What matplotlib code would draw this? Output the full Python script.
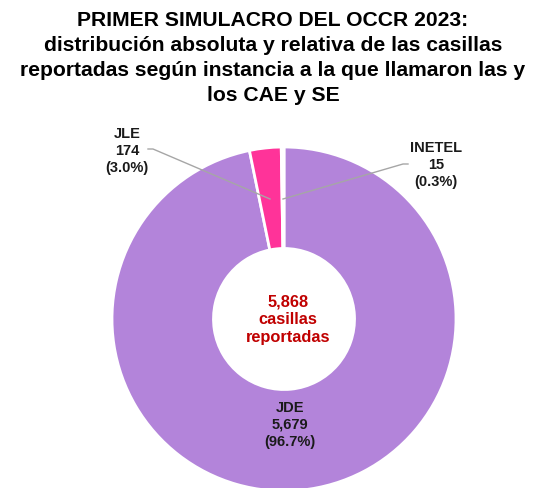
import matplotlib
matplotlib.use("Agg")
import matplotlib.pyplot as plt

plt.rcParams["font.family"] = ["Liberation Sans", "DejaVu Sans"]

TITLE = ("PRIMER SIMULACRO DEL OCCR 2023:\n"
         "distribución absoluta y relativa de las casillas\n"
         "reportadas según instancia a la que llamaron las y\n"
         "los CAE y SE")

CATEGORIES = ["JDE", "JLE", "INETEL"]
VALUES = [5679, 174, 15]
PERCENTS = ["96.7%", "3.0%", "0.3%"]
COLORS = ["#B384DA", "#FF3399", "#C8C8C8"]
TOTAL = 5868

W, H = 546, 489


def py(y):
    # pixel row (top-down) to data y (bottom-up)
    return H - y


def main():
    fig = plt.figure(figsize=(W / 100, H / 100), dpi=100)
    ax = fig.add_axes([0, 0, 1, 1])

    cx, cy, r = 284, py(320), 172

    ax.pie(
        VALUES,
        colors=COLORS,
        startangle=90,
        counterclock=False,
        radius=r,
        center=(cx, cy),
        wedgeprops=dict(width=r * 0.59, edgecolor="white", linewidth=2),
        frame=True,
    )
    ax.set_xlim(0, W)
    ax.set_ylim(0, H)
    ax.set_aspect("equal")
    ax.axis("off")

    labels = [f"{c}\n{v:,}\n({p})" for c, v, p in zip(CATEGORIES, VALUES, PERCENTS)]
    pos = {"JDE": (290, 425), "JLE": (127, 151), "INETEL": (436, 165)}
    for c, lab in zip(CATEGORIES, labels):
        x, y = pos[c]
        ax.text(x, py(y), lab, ha="center", va="center", fontsize=10.5,
                fontweight="bold", linespacing=1.25, color="#1a1a1a")

    # leader lines
    ax.plot([148, 153, 270], [py(150), py(150), py(200)], color="#A6A6A6", lw=1)
    ax.plot([283, 403, 408], [py(200), py(165), py(165)], color="#A6A6A6", lw=1)

    ax.text(288, py(320), f"{TOTAL:,}\ncasillas\nreportadas", ha="center", va="center",
            fontsize=11.8, fontweight="bold", color="#C00000", linespacing=1.25)

    fig.text(0.5, py(58) / H, TITLE, ha="center", va="center", fontsize=15.2,
             fontweight="bold", linespacing=1.4)

    fig.savefig("out.png", dpi=100)
    plt.close(fig)


if __name__ == "__main__":
    main()
